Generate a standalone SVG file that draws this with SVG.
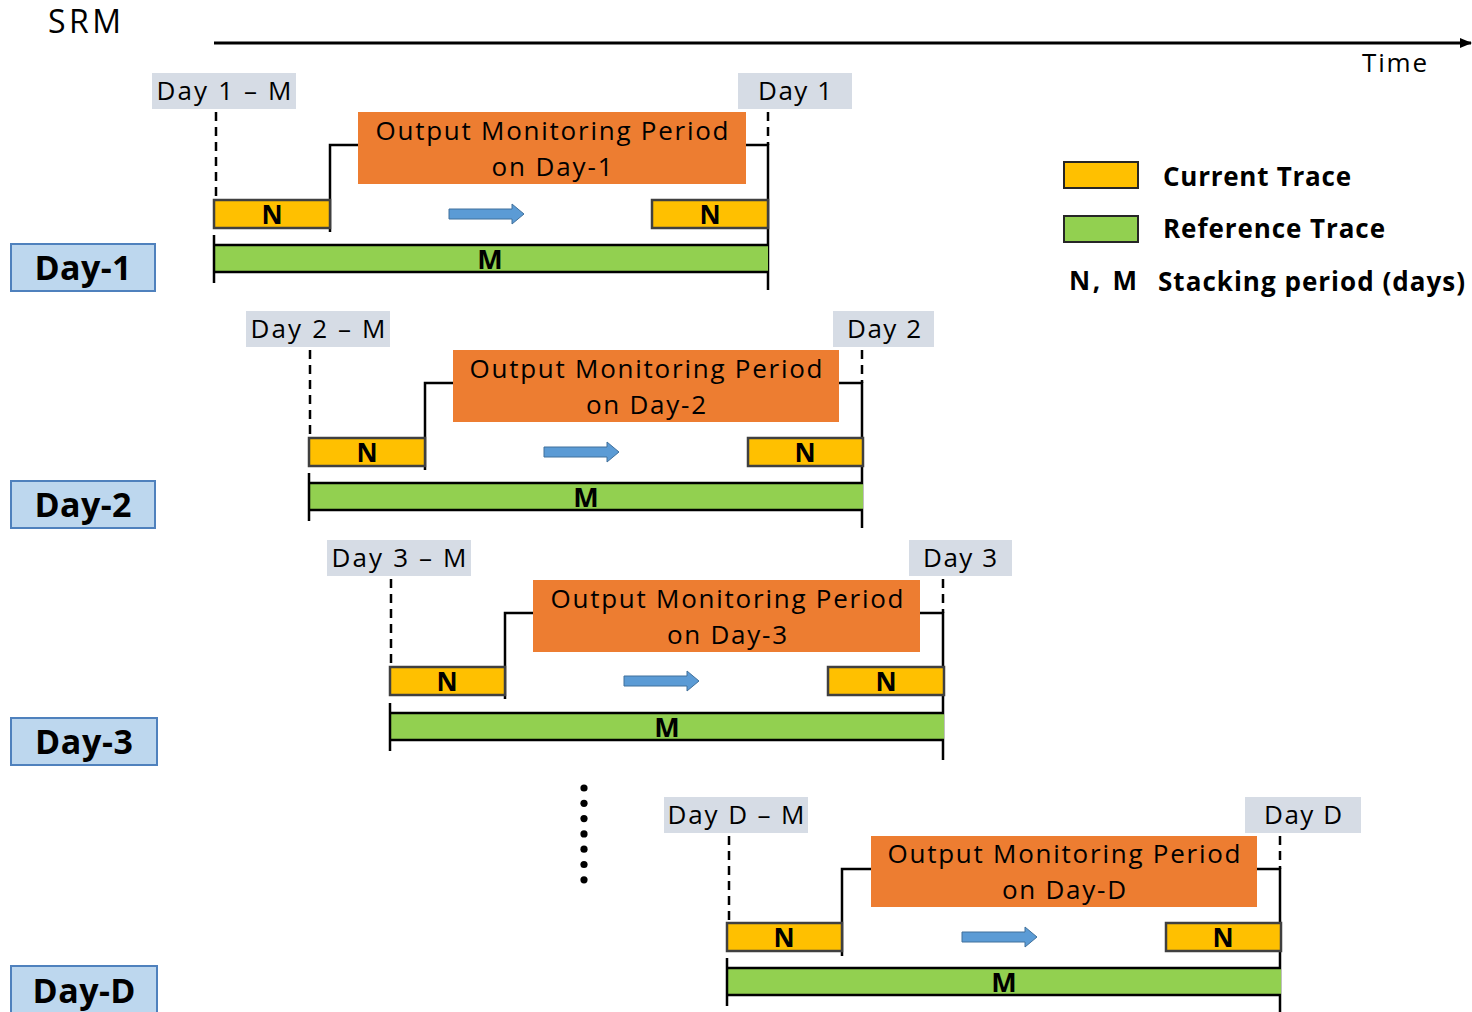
<svg xmlns="http://www.w3.org/2000/svg" width="1472" height="1012" viewBox="0 0 1472 1012">
<style>
text{font-family:"Open Sans","Noto Sans",sans-serif;fill:#000}
.lbl{fill:#d6dce5}
.lt{font-size:26px;text-anchor:middle}
.om{fill:#ed7d31}
.ot{font-size:26px;text-anchor:middle}
.n{fill:#ffc000;stroke:#404040;stroke-width:2.5}
.m{fill:#92d050}
.bt{font-size:26px;font-weight:bold;text-anchor:middle}
.bm{font-size:27px;font-weight:bold;text-anchor:middle}
.ln{fill:none;stroke:#000;stroke-width:2.5}
.dash{fill:none;stroke:#000;stroke-width:2.5;stroke-dasharray:9 6}
.arr{fill:#5b9bd5;stroke:#41719c;stroke-width:1}
.day{fill:#bdd7ee;stroke:#4f81bd;stroke-width:2}
.dt{font-size:34px;font-weight:bold;text-anchor:middle}
.lg{font-size:26px;font-weight:bold}
</style>
<defs>
<marker id="ah" markerWidth="12" markerHeight="10" refX="11" refY="5" orient="auto" markerUnits="userSpaceOnUse">
<path d="M0,0 L12,5 L0,10 Z" fill="#000"/>
</marker>
</defs>

<g id="header">
<text x="48" y="33" font-size="32" textLength="73">SRM</text>
<text x="1362" y="72" font-size="26" textLength="65">Time</text>
</g>

<g id="connectors">
<line x1="214" y1="43" x2="1471" y2="43" stroke="#000" stroke-width="3" marker-end="url(#ah)"/>
</g>

<g id="block-day1">
<rect class="lbl" x="152" y="73" width="144" height="36"/>
<text class="lt" x="224" y="100" textLength="135">Day 1 – M</text>
<rect class="lbl" x="738" y="73" width="114" height="36"/>
<text class="lt" x="795" y="100" textLength="74">Day 1</text>
<path class="dash" d="M216,112 V198 M768,112 V145"/>
<path class="ln" d="M330,232 V145 H358 M746,145 H768 V290"/>
<rect class="om" x="358" y="112" width="388" height="72"/>
<text class="ot" x="552" y="140" textLength="353">Output Monitoring Period</text>
<text class="ot" x="552" y="176" textLength="121">on Day-1</text>
<rect class="n" x="214" y="200" width="116" height="28"/>
<text class="bt" x="272" y="224">N</text>
<rect class="n" x="652" y="200" width="116" height="28"/>
<text class="bt" x="710" y="224">N</text>
<path class="arr" d="M449,209 H512 V204 L524,214 L512,224 V219 H449 Z"/>
<rect class="m" x="214" y="245" width="554" height="27"/>
<path class="ln" d="M214,245 H768 M214,272 H768 M214,235 V283"/>
<text class="bm" x="490" y="269">M</text>
</g>

<g id="block-day2">
<rect class="lbl" x="246" y="311" width="144" height="36"/>
<text class="lt" x="318" y="338" textLength="135">Day 2 – M</text>
<rect class="lbl" x="833" y="311" width="101" height="36"/>
<text class="lt" x="884" y="338" textLength="74">Day 2</text>
<path class="dash" d="M310,350 V436 M862,350 V383"/>
<path class="ln" d="M425,470 V383 H453 M839,383 H862 V528"/>
<rect class="om" x="453" y="350" width="386" height="72"/>
<text class="ot" x="646" y="378" textLength="353">Output Monitoring Period</text>
<text class="ot" x="646" y="414" textLength="120">on Day-2</text>
<rect class="n" x="309" y="438" width="116" height="28"/>
<text class="bt" x="367" y="462">N</text>
<rect class="n" x="748" y="438" width="115" height="28"/>
<text class="bt" x="805" y="462">N</text>
<path class="arr" d="M544,447 H607 V442 L619,452 L607,462 V457 H544 Z"/>
<rect class="m" x="309" y="483" width="554" height="27"/>
<path class="ln" d="M309,483 H863 M309,510 H863 M309,473 V521"/>
<text class="bm" x="586" y="507">M</text>
</g>

<g id="block-day3">
<rect class="lbl" x="327" y="540" width="144" height="36"/>
<text class="lt" x="399" y="567" textLength="135">Day 3 – M</text>
<rect class="lbl" x="909" y="540" width="103" height="36"/>
<text class="lt" x="960" y="567" textLength="74">Day 3</text>
<path class="dash" d="M391,579 V665 M943,579 V613"/>
<path class="ln" d="M505,699 V613 H533 M920,613 H943 V760"/>
<rect class="om" x="533" y="580" width="387" height="72"/>
<text class="ot" x="727" y="608" textLength="353">Output Monitoring Period</text>
<text class="ot" x="727" y="644" textLength="120">on Day-3</text>
<rect class="n" x="390" y="667" width="115" height="28"/>
<text class="bt" x="447" y="691">N</text>
<rect class="n" x="828" y="667" width="116" height="28"/>
<text class="bt" x="886" y="691">N</text>
<path class="arr" d="M624,676 H687 V671 L699,681 L687,691 V686 H624 Z"/>
<rect class="m" x="390" y="713" width="554" height="27"/>
<path class="ln" d="M390,713 H944 M390,740 H944 M390,703 V751"/>
<text class="bm" x="667" y="737">M</text>
</g>

<g id="ellipsis">
<circle cx="584" cy="788" r="3.6"/>
<circle cx="584" cy="803.3" r="3.6"/>
<circle cx="584" cy="818.6" r="3.6"/>
<circle cx="584" cy="833.9" r="3.6"/>
<circle cx="584" cy="849.2" r="3.6"/>
<circle cx="584" cy="864.5" r="3.6"/>
<circle cx="584" cy="879.8" r="3.6"/>
</g>

<g id="block-dayD">
<rect class="lbl" x="664" y="797" width="144" height="36"/>
<text class="lt" x="736" y="824" textLength="137">Day D – M</text>
<rect class="lbl" x="1245" y="797" width="116" height="36"/>
<text class="lt" x="1303" y="824" textLength="78">Day D</text>
<path class="dash" d="M729,836 V921 M1280,836 V869"/>
<path class="ln" d="M842,956 V869 H871 M1257,869 H1280 V1012"/>
<rect class="om" x="871" y="836" width="386" height="71"/>
<text class="ot" x="1064" y="863" textLength="353">Output Monitoring Period</text>
<text class="ot" x="1064" y="899" textLength="124">on Day-D</text>
<rect class="n" x="727" y="923" width="115" height="28"/>
<text class="bt" x="784" y="947">N</text>
<rect class="n" x="1166" y="923" width="115" height="28"/>
<text class="bt" x="1223" y="947">N</text>
<path class="arr" d="M962,932 H1025 V927 L1037,937 L1025,947 V942 H962 Z"/>
<rect class="m" x="727" y="968" width="554" height="27"/>
<path class="ln" d="M727,968 H1281 M727,995 H1281 M727,958 V1006"/>
<text class="bm" x="1004" y="992">M</text>
</g>

<g id="label-day1"><rect class="day" x="11" y="244" width="144" height="47"/><text class="dt" x="83" y="280" textLength="97">Day-1</text></g>
<g id="label-day2"><rect class="day" x="11" y="481" width="144" height="47"/><text class="dt" x="83" y="517" textLength="97">Day-2</text></g>
<g id="label-day3"><rect class="day" x="11" y="718" width="146" height="47"/><text class="dt" x="84" y="754" textLength="98">Day-3</text></g>
<g id="label-dayD"><rect class="day" x="11" y="966" width="146" height="50"/><text class="dt" x="84" y="1003" textLength="103">Day-D</text></g>

<g id="legend">
<rect x="1064" y="162" width="74" height="26" fill="#ffc000" stroke="#262626" stroke-width="2"/>
<text class="lg" x="1163" y="186" textLength="188">Current Trace</text>
<rect x="1064" y="216" width="74" height="26" fill="#92d050" stroke="#262626" stroke-width="2"/>
<text class="lg" x="1163" y="238" textLength="222">Reference Trace</text>
<text class="lg" x="1069" y="290" textLength="68">N, M</text>
<text class="lg" x="1158" y="291" textLength="307">Stacking period (days)</text>
</g>
</svg>
